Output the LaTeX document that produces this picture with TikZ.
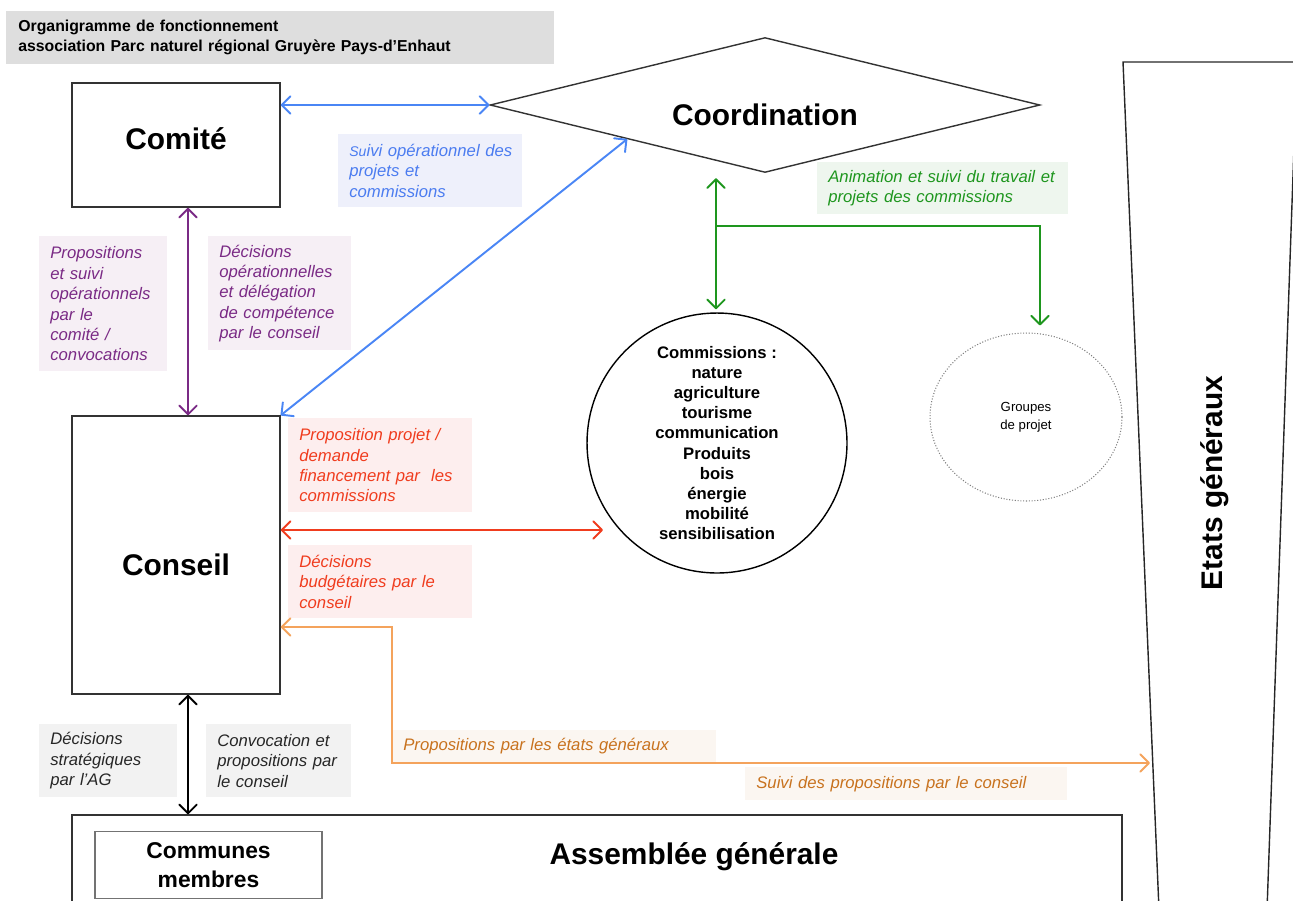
\documentclass[tikz,border=0pt]{standalone}
\usepackage{fontspec}
\setmainfont{Liberation Sans}
\usetikzlibrary{shapes.geometric,arrows.meta,calc}

\definecolor{cblue}{HTML}{4A86F5}
\definecolor{cbluetxt}{HTML}{4B7CF0}
\definecolor{cbluebg}{HTML}{EEF0FB}
\definecolor{cpurple}{HTML}{7A2A85}
\definecolor{cpurplebg}{HTML}{F6EFF5}
\definecolor{cred}{HTML}{F03C1E}
\definecolor{credbg}{HTML}{FDEEEE}
\definecolor{corange}{HTML}{F4A35C}
\definecolor{corangetxt}{HTML}{C8721E}
\definecolor{corangebg}{HTML}{FBF6F1}
\definecolor{cgreen}{HTML}{1E961E}
\definecolor{cgreenbg}{HTML}{EEF6EE}
\definecolor{cgreybg}{HTML}{F2F2F2}
\definecolor{ctitlebg}{HTML}{DEDEDE}

\tikzset{
  bigbox/.style={draw=black!80, line width=0.8pt, font=\fontsize{17}{20}\selectfont\bfseries},
  lbl/.style={anchor=north west, align=left, inner xsep=0.22cm, inner ysep=0pt,
    font=\fontsize{9.5}{11.6}\selectfont\itshape},
  arr/.style={line width=1.1pt}
}

\begin{document}
\begin{tikzpicture}[x=0.02cm, y=-0.02cm, >={Straight Barb[length=5pt,width=10pt,round]}]

  \useasboundingbox (0,0) rectangle (1293,900);

  % Title
  \node[anchor=north west, fill=ctitlebg, align=left, text width=10.48cm,
    minimum height=1.06cm, inner xsep=0.24cm, inner ysep=0pt,
    font=\fontsize{9}{11.3}\selectfont\bfseries] (title) at (6,11)
    {Organigramme de fonctionnement\\association Parc naturel régional Gruyère Pays-d’Enhaut};

  % Main boxes
  \node[bigbox, minimum width=4.16cm, minimum height=2.48cm, text height=12.5pt, text depth=7pt] (comite) at (176,145) {Comité};
  \node[bigbox, minimum width=4.16cm, minimum height=5.56cm, text height=24pt, text depth=0.4pt] (conseil) at (176,555) {Conseil};
  \node[bigbox, shape=diamond, aspect=4, inner sep=0pt, minimum width=11cm,
    minimum height=2.7cm, text height=24pt, text depth=0.4pt] (coord) at (765,105) {Coordination};
  \node[draw, circle, line width=0.8pt, inner sep=0pt, minimum size=5.2cm, align=center,
    font=\fontsize{9.5}{11.5}\selectfont\bfseries] (comm) at (717,443)
    {Commissions :\\nature\\agriculture\\tourisme\\communication\\Produits\\bois\\énergie\\mobilité\\sensibilisation};
  \node[draw=black!50, densely dotted, ellipse, line width=0.6pt, minimum width=3.84cm,
    minimum height=3.36cm, align=center, font=\fontsize{7.5}{10}\selectfont] (grp) at (1026,417)
    {Groupes\\de projet};

  % Assemblee generale
  \node[bigbox, minimum width=21cm, minimum height=3cm] (ag) at (597,890) {};
  \node[font=\fontsize{17}{20}\selectfont\bfseries] (agtxt) at (694,857) {Assemblée générale};
  \node[draw=black!55, line width=0.6pt, minimum width=4.54cm, minimum height=1.34cm,
    align=center, font=\fontsize{13}{16.4}\selectfont\bfseries] (communes) at (208.5,865)
    {Communes\\membres};

  % Etats generaux
  \draw[line width=0.8pt, black!85] (1159,910) -- (1123,62) -- (1297,62) -- (1267,910);
  \node[rotate=90, font=\fontsize{17}{20}\selectfont\bfseries] (egtxt) at (1215,483) {Etats généraux};

  % Labels
  \node[lbl, fill=cbluebg, text=cbluetxt, text width=3.24cm, minimum height=1.46cm] (lblue) at (338,134)
    {\mbox{{\fontsize{8}{10}\selectfont Su}ivi opérationnel des}\\projets et\\commissions};
  \node[lbl, fill=cpurplebg, text=cpurple, text width=2.12cm, minimum height=2.7cm] (lpurpa) at (39,236)
    {Propositions\\et suivi\\opérationnels\\par le\\comité /\\convocations};
  \node[lbl, fill=cpurplebg, text=cpurple, text width=2.42cm, minimum height=2.28cm] (lpurpb) at (208,236)
    {Décisions\\opérationnelles\\et délégation\\de compétence\\par le conseil};
  \node[lbl, fill=credbg, text=cred, text width=3.24cm, minimum height=1.88cm] (lreda) at (288,418)
    {Proposition projet /\\demande\\financement par~ les\\commissions};
  \node[lbl, fill=credbg, text=cred, text width=3.24cm, minimum height=1.46cm] (lredb) at (288,545)
    {Décisions\\budgétaires par le\\conseil};
  \node[lbl, fill=cgreenbg, text=cgreen, text width=4.58cm, minimum height=1.04cm] (lgreen) at (817,162)
    {Animation et suivi du travail et\\projets des commissions};
  \node[lbl, fill=cgreybg, text=black!85, text width=2.32cm, minimum height=1.46cm] (lgreya) at (39,724)
    {Décisions\\stratégiques\\par l’AG};
  \node[lbl, fill=cgreybg, text=black!85, text width=2.46cm, minimum height=1.46cm] (lgreyb) at (206,724)
    {Convocation et\\propositions par\\le conseil};
  \node[lbl, fill=corangebg, text=corangetxt, text width=6.04cm, minimum height=0.64cm] (loranga) at (392,730)
    {Propositions par les états généraux};
  \node[lbl, fill=corangebg, text=corangetxt, text width=6.0cm, minimum height=0.66cm] (lorangb) at (745,767)
    {Suivi des propositions par le conseil};

  % Helper points
  \coordinate (axis) at (188,0);
  \coordinate (redend) at (603,530);
  \coordinate (ocorner) at (392,627);
  \coordinate (egin) at (1150,763);
  \coordinate (gsplit) at (716,226);

  % Connectors
  \draw[arr, <->, cblue] (coord.west -| comite.east) -- (coord.west);
  \draw[arr, <->, cblue] (conseil.north east) -- (coord.south west);
  \draw[arr, <->, cpurple] (comite.south -| axis) -- (conseil.north -| axis);
  \draw[arr, <->, black] (conseil.south -| axis) -- (ag.north -| axis);
  \draw[arr, <->, cred] (conseil.east |- redend) -- (redend);
  \draw[arr, <->, corange] (conseil.east |- ocorner) -- (ocorner) |- (egin);
  \draw[arr, <->, cgreen] ($(coord.south -| gsplit)+(0,5)$) -- ($(comm.north -| gsplit)+(0,-3)$);
  \draw[arr, ->, cgreen] (gsplit) -| ($(grp.north)+(14,-7)$);

\end{tikzpicture}
\end{document}
